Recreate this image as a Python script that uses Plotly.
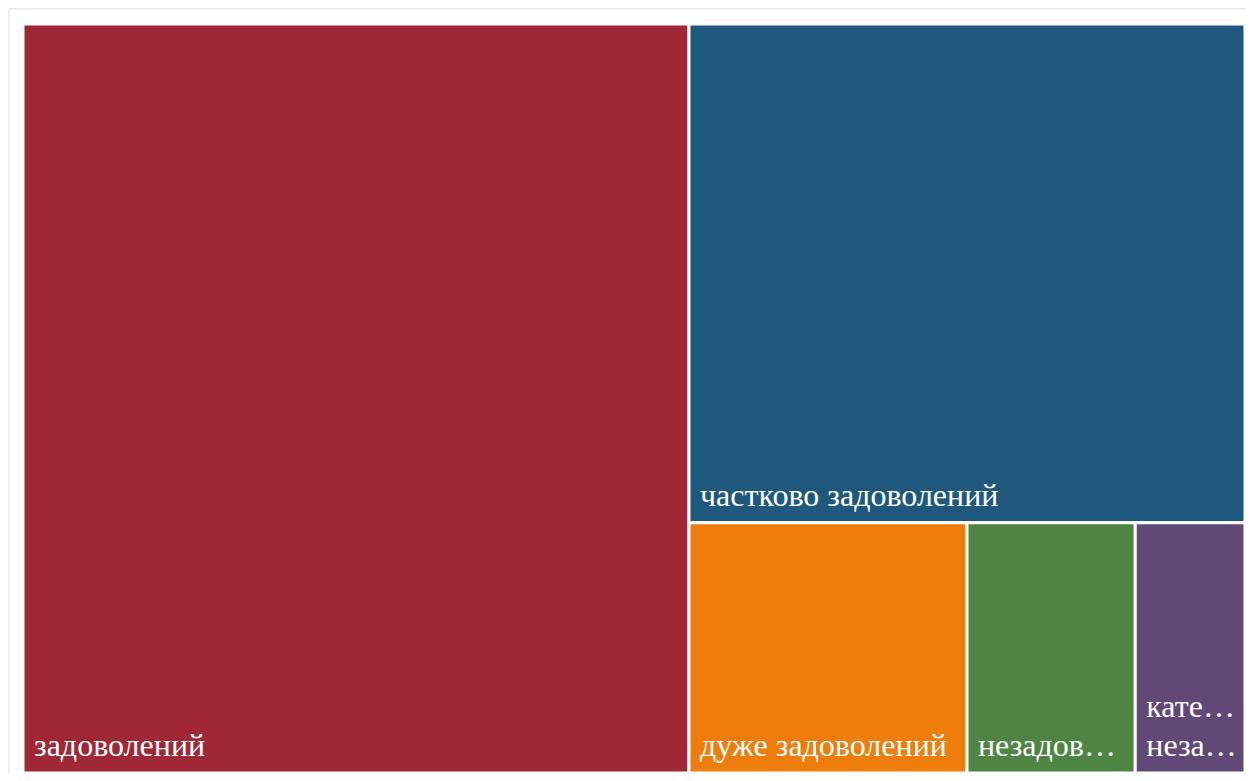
import plotly.graph_objects as go

labels = ["задоволений", "частково задоволений", "дуже задоволений", "незадоволений", "категорично незадоволений"]
display_lines = [["задоволений"], ["частково задоволений"], ["дуже задоволений"], ["незадов…"], ["кате…", "неза…"]]
values = [54.5, 30.3, 7.6, 4.6, 3.0]
colors = ["#A02736", "#1E587C", "#EE7D0B", "#4E8542", "#614876"]

LABEL_PX = 32   # visible label size
BASE_PX = 5     # base size, controls line-step (1.3em) used for spacing tricks


def label_html(lines):
    spans = ["<span style='font-size:%dpx'>&nbsp;%s</span>" % (LABEL_PX, ln) for ln in lines]
    # ~38px between the two label lines -> 6 small line steps
    body = "<br><br><br><br><br><br>".join(spans)
    # invisible trailing lines lift the text off the tile bottom
    return body + "<br><br><span style='color:rgba(0,0,0,0)'>.</span>"


fig = go.Figure(go.Treemap(
    labels=labels,
    parents=[""] * len(labels),
    values=values,
    text=[label_html(l) for l in display_lines],
    texttemplate="%{text}",
    textposition="bottom left",
    textfont=dict(family="Liberation Serif, Times New Roman, serif", size=BASE_PX, color="white"),
    marker=dict(colors=colors, line=dict(width=3, color="white"),
                pad=dict(t=0, l=0, r=0, b=0)),
    sort=True,
    tiling=dict(packing="squarify", pad=0),
    pathbar=dict(visible=False),
    hoverinfo="label+value",
))

fig.update_layout(
    width=1238, height=765,
    margin=dict(l=15, r=1, t=16, b=0),
    paper_bgcolor="white",
    shapes=[dict(type="rect", xref="paper", yref="paper",
                 x0=-0.0115, x1=1.5, y0=-0.5, y1=1.0202,
                 line=dict(color="#d9d9d9", width=1), fillcolor="rgba(0,0,0,0)", layer="below")],
)

fig.write_html("out.html")
